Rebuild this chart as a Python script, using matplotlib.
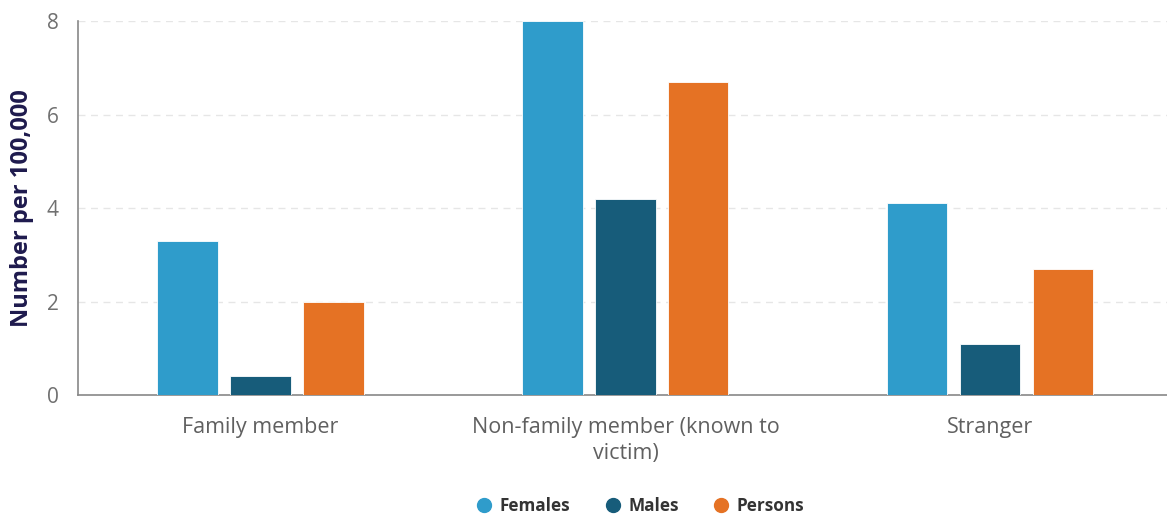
import numpy as np
import matplotlib
matplotlib.use("Agg")
from matplotlib import pyplot as plt
from matplotlib.lines import Line2D

plt.rcParams['font.family'] = ['Open Sans', 'DejaVu Sans']

categories = ["Family member", "Non-family member (known to\nvictim)", "Stranger"]
series = ["Females", "Males", "Persons"]
females = [3.3, 8.0, 4.1]
males = [0.4, 4.2, 1.1]
persons = [2.0, 6.7, 2.7]
colors = ["#2F9CCB", "#175C7A", "#E57224"]

fig = plt.figure(figsize=(11.67, 5.15), dpi=100)
ax = fig.add_axes([0.0668, 0.233, 0.9332, 0.726])

x = np.arange(len(categories))
width = 0.165
for i, (vals, name, c) in enumerate(zip([females, males, persons], series, colors)):
    ax.bar(x + (i - 1) * 0.2, vals, width, color=c, edgecolor="white", linewidth=0.6, zorder=3, label=name)

ax.set_xlim(-0.5, 2.484)
ax.set_ylim(0, 8)
ax.set_yticks([0, 2, 4, 6, 8])
ax.set_xticks(x)
ax.set_xticklabels(categories, fontsize=15.5, color="#606060", linespacing=1.3)
ax.tick_params(axis='y', labelsize=15, colors="#707070", length=0, pad=14)
ax.tick_params(axis='x', length=0, pad=16)
ax.grid(axis='y', color="#e6e6e6", linestyle=(0, (5, 4)), linewidth=1, zorder=0)

for s in ["top", "right"]:
    ax.spines[s].set_visible(False)
ax.spines["left"].set_color("#888888")
ax.spines["bottom"].set_color("#888888")
ax.spines["left"].set_linewidth(1.2)
ax.spines["bottom"].set_linewidth(1.2)

ax.set_ylabel("Number per 100,000", fontsize=17, fontweight="bold", color="#1e1a4d", labelpad=9)

handles = [Line2D([], [], marker='o', linestyle='', markersize=10, color=c) for c in colors]
leg = fig.legend(handles, series, loc="center", bbox_to_anchor=(0.549, 0.017), ncol=3, frameon=False,
                 handlelength=0.8, handletextpad=0.5, columnspacing=2.1,
                 prop={'weight': 'bold', 'size': 12.3})
for t in leg.get_texts():
    t.set_color("#333333")

fig.savefig("out.png", dpi=100)
